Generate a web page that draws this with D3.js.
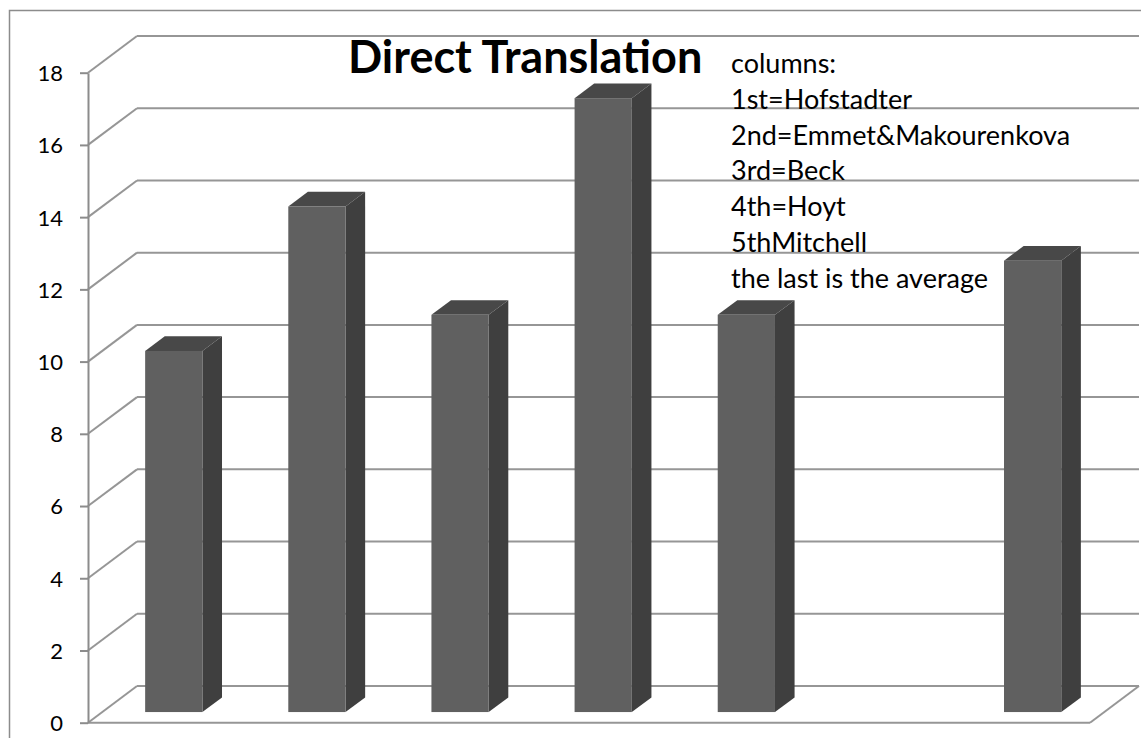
<!DOCTYPE html>
<html>
<head>
<meta charset="utf-8">
<script src="https://cdn.jsdelivr.net/npm/d3@7"></script>
<style>
  body { margin: 0; background: #fff; }
  #chart text { font-family: Lato, "Open Sans", sans-serif; fill: #000; }
  .axis path, .axis line { stroke: #8c8c8c; stroke-width: 2; }
  .grid line { stroke: #969696; stroke-width: 2; }
</style>
</head>
<body>
<div id="chart"></div>
<script>
// Chart data
var categories = ["Hofstadter", "Emmet&Makourenkova", "Beck", "Hoyt", "Mitchell", "(blank)", "Average"];
var values = [10, 14, 11, 17, 11, null, 12.5];
var yTicks = [0, 2, 4, 6, 8, 10, 12, 14, 16, 18];
var title = "Direct Translation";
var notes = [
  "columns:",
  "1st=Hofstadter",
  "2nd=Emmet&Makourenkova",
  "3rd=Beck",
  "4th=Hoyt",
  "5thMitchell",
  "the last is the average"
];

var COLORS = {
  front: "#606060",
  side: "#3f3f3f",
  top: "#484848",
  grid: "#969696"
};

var render = function() {
  var width = 1141;
  var height = 738;

  // front plane of the plot, and the depth offset to the back wall
  var plot = { left: 88, right: 1090, top: 72.7, bottom: 722.7 };
  var depth = { dx: 49, dy: 36.7 };
  // bars sit between these fractions of the depth
  var barDepth = [0.29, 0.69];

  var svg = d3.select("#chart")
    .append("svg")
    .attr("width", width)
    .attr("height", height);

  // outer chart border
  svg.append("rect")
    .attr("x", 9.5)
    .attr("y", 10.5)
    .attr("width", width + 20)
    .attr("height", height + 20)
    .attr("fill", "none")
    .attr("stroke", "#8c8c8c")
    .attr("stroke-width", 1.5);

  var xScale = d3.scaleBand()
    .domain(categories)
    .range([plot.left, plot.right])
    .paddingInner(0.6)
    .paddingOuter(0.3);

  var yScale = d3.scaleLinear()
    .domain([0, 18])
    .range([plot.bottom, plot.top]);

  // Back wall and side wall grid
  var grid = svg.append("g").attr("class", "grid");

  grid.selectAll("line.back")
    .data(yTicks)
    .enter()
    .append("line")
    .attr("class", "back")
    .attr("x1", plot.left + depth.dx)
    .attr("x2", width - 2)
    .attr("y1", d => yScale(d) - depth.dy)
    .attr("y2", d => yScale(d) - depth.dy);

  grid.selectAll("line.side")
    .data(yTicks)
    .enter()
    .append("line")
    .attr("class", "side")
    .attr("x1", plot.left)
    .attr("x2", plot.left + depth.dx)
    .attr("y1", d => yScale(d))
    .attr("y2", d => yScale(d) - depth.dy);

  // floor edges
  grid.append("line")
    .attr("x1", plot.left)
    .attr("x2", plot.right)
    .attr("y1", yScale(0))
    .attr("y2", yScale(0));

  grid.append("line")
    .attr("x1", plot.right)
    .attr("x2", plot.right + depth.dx)
    .attr("y1", yScale(0))
    .attr("y2", yScale(0) - depth.dy);

  // Y axis
  var yAxis = d3.axisLeft(yScale)
    .tickValues(yTicks)
    .tickSize(8)
    .tickPadding(17)
    .tickSizeOuter(0);

  var axis = svg.append("g")
    .attr("class", "y axis")
    .attr("transform", `translate(${plot.left},0)`)
    .call(yAxis);

  axis.selectAll("text")
    .style("font-size", "22px")
    .attr("dy", "0.36em");

  // 3D columns
  var fx = xScale.bandwidth();
  var ox0 = barDepth[0] * depth.dx;
  var oy0 = barDepth[0] * depth.dy;
  var bdx = (barDepth[1] - barDepth[0]) * depth.dx;
  var bdy = (barDepth[1] - barDepth[0]) * depth.dy;

  var barData = categories
    .map((c, i) => ({ name: c, value: values[i] }))
    .filter(d => d.value != null);

  var bars = svg.append("g")
    .attr("class", "bars")
    .selectAll("g")
    .data(barData)
    .enter()
    .append("g");

  var pts = function(list) {
    return list.map(p => p.join(",")).join(" ");
  };

  // top face
  bars.append("polygon")
    .attr("fill", COLORS.top)
    .attr("points", function(d) {
      var x0 = xScale(d.name) + ox0;
      var yt = yScale(d.value) - oy0;
      return pts([[x0, yt], [x0 + fx, yt], [x0 + fx + bdx, yt - bdy], [x0 + bdx, yt - bdy]]);
    });

  // side face
  bars.append("polygon")
    .attr("fill", COLORS.side)
    .attr("points", function(d) {
      var x1 = xScale(d.name) + ox0 + fx;
      var yt = yScale(d.value) - oy0;
      var yb = yScale(0) - oy0;
      return pts([[x1, yt], [x1 + bdx, yt - bdy], [x1 + bdx, yb - bdy], [x1, yb]]);
    });

  // front face
  bars.append("rect")
    .attr("fill", COLORS.front)
    .attr("x", d => xScale(d.name) + ox0)
    .attr("y", d => yScale(d.value) - oy0)
    .attr("width", fx)
    .attr("height", d => yScale(0) - yScale(d.value));

  // Title and notes
  svg.append("text")
    .attr("x", 348)
    .attr("y", 73)
    .style("font-size", "45px")
    .style("font-weight", "bold")
    .text(title);

  svg.append("g")
    .attr("class", "notes")
    .selectAll("text")
    .data(notes)
    .enter()
    .append("text")
    .attr("x", 731)
    .attr("y", (d, i) => 73 + i * 35.8)
    .style("font-size", "27px")
    .text(d => d);
};

window.onload = render;
</script>
</body>
</html>
